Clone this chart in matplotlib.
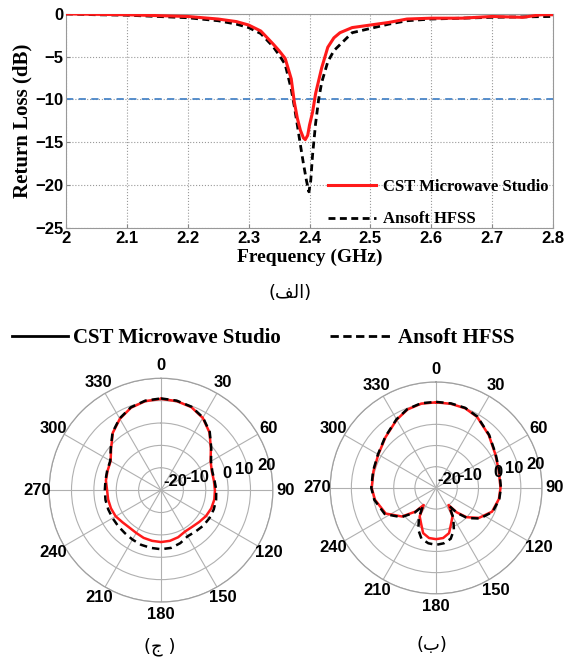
import numpy as np
import matplotlib
matplotlib.use('Agg')
import matplotlib.pyplot as plt
from matplotlib.lines import Line2D

# --- return loss data ---
freq_cst = [2.00, 2.05, 2.10, 2.15, 2.20, 2.25, 2.28, 2.30, 2.32, 2.34, 2.35, 2.36, 2.37,
            2.375, 2.38, 2.385, 2.39, 2.393, 2.397, 2.40, 2.405, 2.41, 2.415, 2.42, 2.43,
            2.44, 2.45, 2.47, 2.50, 2.53, 2.56, 2.60, 2.65, 2.70, 2.75, 2.78, 2.80]
rl_cst = [0.0, -0.05, -0.1, -0.2, -0.3, -0.6, -0.9, -1.3, -2.0, -3.5, -4.3, -5.2, -7.6,
          -10.3, -12.2, -13.6, -14.5, -14.7, -14.2, -13.0, -11.5, -9.3, -7.8, -6.3, -3.9,
          -2.8, -2.2, -1.6, -1.3, -1.0, -0.6, -0.5, -0.5, -0.3, -0.4, -0.1, -0.1]

freq_hfss = [2.00, 2.05, 2.10, 2.15, 2.20, 2.25, 2.28, 2.30, 2.32, 2.34, 2.35, 2.36, 2.37,
             2.375, 2.38, 2.385, 2.39, 2.395, 2.399, 2.402, 2.405, 2.41, 2.415, 2.42, 2.43,
             2.44, 2.45, 2.47, 2.50, 2.53, 2.56, 2.60, 2.65, 2.70, 2.75, 2.80]
rl_hfss = [0.0, -0.1, -0.15, -0.3, -0.45, -0.8, -1.2, -1.6, -2.3, -3.8, -4.8, -5.9, -8.8,
           -10.8, -13.0, -15.3, -17.5, -19.5, -20.8, -19.5, -16.5, -12.8, -10.0, -8.0, -5.6,
           -4.3, -3.6, -2.2, -1.7, -1.2, -0.8, -0.6, -0.5, -0.4, -0.35, -0.3]

x_ticks = [2.0, 2.1, 2.2, 2.3, 2.4, 2.5, 2.6, 2.7, 2.8]
x_ticklabels = ['2', '2.1', '2.2', '2.3', '2.4', '2.5', '2.6', '2.7', '2.8']
y_ticks = [0, -5, -10, -15, -20, -25]
threshold = -10

# --- radiation patterns (dB), panel (ج) ---
ang_c = [0, 10, 20, 30, 40, 50, 60, 70, 80, 90, 100, 110, 120, 130, 140, 150, 160, 170,
         180, 190, 200, 210, 220, 230, 240, 250, 260, 270, 280, 290, 300, 310, 320, 330,
         340, 350, 360]
pat_c_cst = [10.8, 10.4, 9.5, 7.3, 3.7, -0.9, -4.4, -5.8, -6.0, -5.9, -5.8, -6.1, -6.8,
             -7.8, -8.5, -8.6, -7.6, -7.0, -6.8, -7.0, -7.3, -7.9, -8.1, -7.6, -6.6, -6.2,
             -6.0, -5.9, -5.0, -4.6, -4.0, -0.9, 3.5, 6.8, 9.2, 10.4, 10.8]
pat_c_hfss = [11.0, 10.6, 9.7, 7.5, 3.9, -0.7, -4.2, -5.6, -5.7, -5.3, -5.0, -4.9, -5.0,
              -5.3, -5.9, -6.2, -4.8, -3.8, -3.6, -3.8, -4.0, -4.5, -4.9, -5.0, -5.0, -4.9,
              -4.8, -4.9, -4.8, -4.4, -3.8, -0.7, 3.7, 7.0, 9.4, 10.6, 11.0]

# --- radiation patterns (dB), panel (ب) ---
ang_b = [0, 10, 20, 30, 45, 60, 75, 90, 100, 113, 125, 134, 140, 144, 150, 157, 164, 172,
         180, 188, 196, 203, 210, 216, 221, 230, 243, 259, 270, 285, 300, 315, 330, 340,
         350, 360]
pat_b_cst = [10.4, 10.3, 10.0, 8.7, 5.2, 2.2, 0.7, 0.4, 0.1, -1.3, -5.3, -10.1, -15.0,
             -20.0, -14.5, -11.8, -7.8, -6.1, -5.8, -6.1, -7.8, -11.8, -14.5, -20.0, -15.2,
             -9.0, -3.3, -0.6, 0.4, 0.6, 1.5, 3.8, 7.2, 9.4, 10.4, 10.4]
pat_b_hfss = [10.6, 10.5, 10.2, 8.9, 5.4, 2.4, 0.9, 0.6, 0.3, -1.0, -4.8, -9.5, -14.5,
              -19.5, -13.8, -8.5, -5.0, -3.6, -3.1, -3.6, -5.0, -8.5, -13.8, -19.5, -14.5,
              -8.5, -2.8, -0.3, 0.6, 0.8, 1.7, 4.0, 7.4, 9.6, 10.6, 10.6]

r_ticks = [-20, -10, 0, 10, 20]
theta_labels = [0, 30, 60, 90, 120, 150, 180, 210, 240, 270, 300, 330]

sans = 'Liberation Sans'
serif = 'Liberation Serif'
arabic = 'DejaVu Sans'

fig = plt.figure(figsize=(5.78, 6.62), dpi=100)

# ---------------- return loss ----------------
ax = fig.add_axes([0.114, 0.656, 0.843, 0.323])
ax.plot(freq_cst, rl_cst, color='#ff1a1a', lw=2.2, label='CST Microwave Studio', zorder=4)
ax.plot(freq_hfss, rl_hfss, color='black', lw=2, linestyle=(0, (2.5, 1.6)),
        label='Ansoft HFSS', zorder=3)
ax.axhline(threshold, color='#4a86c8', lw=1.3, linestyle=(0, (4, 3)), zorder=2)
ax.set_xlim(2.0, 2.8)
ax.set_ylim(-25, 0)
ax.set_xticks(x_ticks)
ax.set_xticklabels(x_ticklabels)
ax.set_yticks(y_ticks)
ax.grid(True, linestyle=':', color='#999999', lw=0.8)
ax.tick_params(direction='in', length=3, color='#888888', pad=2)
for lab in ax.get_xticklabels() + ax.get_yticklabels():
    lab.set_fontfamily(sans)
    lab.set_fontweight('bold')
    lab.set_fontsize(12)
for s in ax.spines.values():
    s.set_color('#999999')
ax.set_xlabel('Frequency (GHz)', fontfamily=serif, fontweight='bold', fontsize=14, labelpad=2)
ax.set_ylabel('Return Loss (dB)', fontfamily=serif, fontweight='bold', fontsize=15, labelpad=2)
ax.legend(loc='upper left', bbox_to_anchor=(0.52, 0.268), frameon=False,
          prop={'family': serif, 'weight': 'bold', 'size': 12},
          handlelength=2.9, handletextpad=0.4, labelspacing=1.0, borderpad=0)

fig.text(0.502, 1 - 293 / 662, '(' + '\uFED2\uFEDF\uFE8D' + ')', ha='center', va='center',
         fontfamily=arabic, fontsize=13)


# ---------------- polar patterns ----------------
def pattern(rect, ang, cst, hfss, r_lab):
    pax = fig.add_axes(rect, projection='polar')
    pax.set_theta_zero_location('N')
    pax.set_theta_direction(-1)
    th = np.deg2rad(ang)
    pax.plot(th, cst, color='#ff1a1a', lw=1.8, zorder=3)
    pax.plot(th, hfss, color='black', lw=1.8, linestyle=(0, (3, 2)), zorder=4)
    pax.set_rlim(-30, 20)
    pax.set_yticks(r_ticks)
    pax.set_yticklabels([])
    pax.set_xticks(np.deg2rad(theta_labels))
    pax.set_xticklabels([])
    pax.grid(True, color='#b0b0b0', lw=0.8, linestyle='-')
    pax.spines['polar'].set_color('#a0a0a0')
    pax.spines['polar'].set_linewidth(0.9)
    # angle labels just outside the outer ring
    for t in theta_labels:
        pax.text(np.deg2rad(t), r_lab, str(t), ha='center', va='center', fontfamily=sans,
                 fontweight='bold', fontsize=12, clip_on=False)
    # ring labels along the 80 degree spoke
    for v in r_ticks:
        pax.annotate(str(v), xy=(np.deg2rad(80), v), xytext=(3, -2),
                     textcoords='offset points', ha='right', va='bottom', fontfamily=sans,
                     fontweight='bold', fontsize=12, zorder=5)
    return pax


pattern([0.0848, 0.0906, 0.3875, 0.338], ang_c, pat_c_cst, pat_c_hfss, 25.5)
pattern([0.571, 0.103, 0.367, 0.320], ang_b, pat_b_cst, pat_b_hfss, 26.0)

fig.text(0.277, 1 - 647 / 662, '(\uFE9D )', ha='center', va='center',
         fontfamily=arabic, fontsize=13)
fig.text(0.747, 1 - 645 / 662, '(\uFE8F)', ha='center', va='center',
         fontfamily=arabic, fontsize=13)

# legend keys above the polar plots
leg_font = {'family': serif, 'weight': 'bold', 'size': 15}
fig.legend(handles=[Line2D([], [], color='black', lw=2)], labels=['CST Microwave Studio'],
           loc='center left', bbox_to_anchor=(0.02, 1 - 338 / 662), frameon=False,
           prop=leg_font, handlelength=2.7, handletextpad=0.25, borderpad=0, borderaxespad=0)
fig.legend(handles=[Line2D([], [], color='black', lw=2, linestyle=(0, (3, 1.6)))],
           labels=['Ansoft HFSS'],
           loc='center left', bbox_to_anchor=(0.571, 1 - 338 / 662), frameon=False,
           prop=leg_font, handlelength=2.9, handletextpad=0.35, borderpad=0, borderaxespad=0)

fig.savefig('out.png', dpi=100)
